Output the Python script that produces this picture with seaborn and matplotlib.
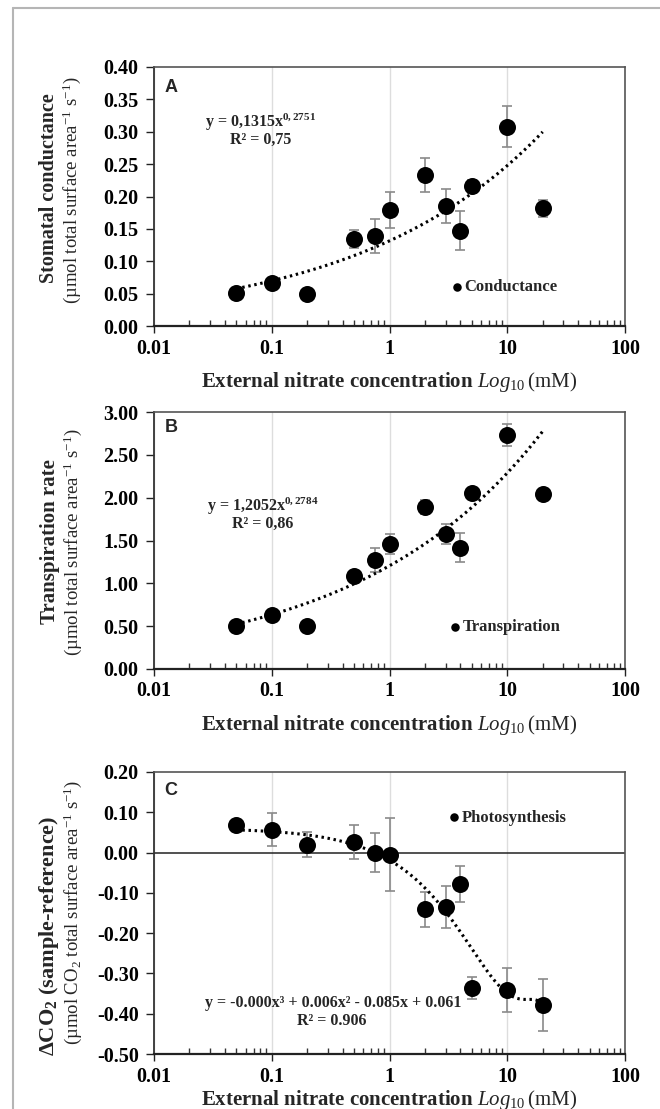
import numpy as np
import pandas as pd
import matplotlib
matplotlib.use("Agg")
import matplotlib.pyplot as plt
import seaborn as sns
from matplotlib.lines import Line2D
from matplotlib.ticker import FixedLocator, LogLocator, NullFormatter, FuncFormatter

# ---------------- data ----------------
nitrate = [0.05, 0.1, 0.2, 0.5, 0.75, 1, 2, 3, 4, 5, 10, 20]

conductance = [0.051, 0.066, 0.050, 0.134, 0.139, 0.179, 0.233, 0.185, 0.147, 0.216, 0.308, 0.182]
conductance_err = [0.003, 0.003, 0.003, 0.014, 0.026, 0.028, 0.026, 0.026, 0.030, 0.010, 0.031, 0.013]

transpiration = [0.505, 0.63, 0.505, 1.088, 1.271, 1.457, 1.893, 1.574, 1.418, 2.056, 2.736, 2.040]
transpiration_err = [0.02, 0.02, 0.02, 0.03, 0.136, 0.117, 0.085, 0.117, 0.17, 0.03, 0.128, 0.03]

photosynthesis = [0.068, 0.057, 0.020, 0.026, 0.000, -0.005, -0.141, -0.135, -0.078, -0.337, -0.341, -0.379]
photosynthesis_err = [0.0, 0.040, 0.030, 0.042, 0.048, 0.091, 0.044, 0.051, 0.045, 0.027, 0.055, 0.064]

# power-law trend coefficients printed on the chart
cond_a, cond_b = 0.1315, 0.2751
trans_a, trans_b = 1.2052, 0.2784

yticks_A = [0.00, 0.05, 0.10, 0.15, 0.20, 0.25, 0.30, 0.35, 0.40]
yticks_B = [0.00, 0.50, 1.00, 1.50, 2.00, 2.50, 3.00]
yticks_C = [-0.50, -0.40, -0.30, -0.20, -0.10, 0.00, 0.10, 0.20]
xticks = [0.01, 0.1, 1, 10, 100]
xtick_labels = ["0.01", "0.1", "1", "10", "100"]

# ---------------- style ----------------
sns.set_style("ticks")
plt.rcParams["font.family"] = ["Liberation Serif", "DejaVu Serif"]
plt.rcParams["mathtext.fontset"] = "custom"
plt.rcParams["mathtext.rm"] = "Liberation Serif"
plt.rcParams["mathtext.it"] = "Liberation Serif:italic"
plt.rcParams["mathtext.bf"] = "Liberation Serif:bold"
plt.rcParams["mathtext.default"] = "regular"
plt.rcParams["axes.unicode_minus"] = False

W, H = 660, 1109
fig = plt.figure(figsize=(W / 100, H / 100), dpi=100)

def px_axes(left, top, right, bottom):
    return fig.add_axes([left / W, 1 - bottom / H, (right - left) / W, (bottom - top) / H])

axA = px_axes(154, 67, 625, 326)
axB = px_axes(154, 412, 625, 669)
axC = px_axes(154, 772, 625, 1054)

df = pd.DataFrame({"x": nitrate, "cond": conductance, "cond_err": conductance_err,
                   "tr": transpiration, "tr_err": transpiration_err,
                   "ph": photosynthesis, "ph_err": photosynthesis_err})

xfit = np.geomspace(min(nitrate), max(nitrate), 300)
DOT = (0, (0.8, 1.2))

def style_axes(ax, yticks, ylim, labelpad=8):
    ax.set_xscale("log")
    ax.set_xlim(0.01, 100)
    ax.set_ylim(*ylim)
    ax.xaxis.set_major_locator(FixedLocator(xticks))
    ax.set_xticklabels(xtick_labels)
    ax.xaxis.set_minor_locator(LogLocator(base=10, subs=np.arange(2, 10)))
    ax.xaxis.set_minor_formatter(NullFormatter())
    ax.set_yticks(yticks)
    ax.yaxis.set_major_formatter(FuncFormatter(lambda v, p: f"{v:.2f}"))
    ax.grid(axis="x", which="major", color="#dddddd", lw=1)
    ax.set_axisbelow(True)
    ax.tick_params(axis="x", which="major", direction="out", length=5, width=1,
                   labelsize=14.5, pad=4, colors="#222222")
    ax.tick_params(axis="x", which="minor", direction="in", length=4, width=1, colors="#333333")
    ax.tick_params(axis="y", which="major", direction="out", length=6, width=1,
                   labelsize=14.5, pad=5, colors="#222222")
    for lab in ax.get_xticklabels() + ax.get_yticklabels():
        lab.set_fontweight("bold")
        lab.set_color("black")
    for s in ["top", "right"]:
        ax.spines[s].set_color("#555555")
        ax.spines[s].set_linewidth(1.2)
    ax.spines["left"].set_color("#333333")
    ax.spines["left"].set_linewidth(1.3)
    ax.spines["bottom"].set_color("#222222")
    ax.spines["bottom"].set_linewidth(1.6)
    ax.set_xlabel(r"$\mathbf{External\ nitrate\ concentration}$ $\mathit{Log}_{\mathit{10}}$$\,$(mM)",
                  fontsize=15, labelpad=labelpad)
    ax.set_ylabel("")

def points(ax, col, err, label):
    ax.errorbar(df["x"], df[col], yerr=df[err], fmt="none", ecolor="#8a8a8a",
                elinewidth=1.2, capsize=3.3, capthick=1.2, zorder=2)
    sns.scatterplot(data=df, x="x", y=col, ax=ax, color="black", s=150,
                    edgecolor="black", linewidth=0, zorder=4, label=label)

def legend(ax, xa, ya):
    return ax.legend(frameon=False, loc="center left", bbox_to_anchor=(xa, ya),
                     handlelength=0.6, handletextpad=0.15, borderpad=0, borderaxespad=0,
                     markerscale=0.5, prop={"family": "Liberation Serif", "weight": "bold", "size": 12})

def txt(ax, x, y, s, **kw):
    ax.text(x, y, s, transform=ax.transAxes, ha="center", va="center",
            fontsize=11.5, fontweight="bold", **kw)

# ---- Panel A ----
points(axA, "cond", "cond_err", "Conductance")
sns.lineplot(x=xfit, y=cond_a * xfit ** cond_b, ax=axA, color="black", lw=2.2,
             linestyle=DOT, zorder=3)
style_axes(axA, yticks_A, (0, 0.40))
legend(axA, 0.633, 0.15)
txt(axA, 0.226, 0.785, "y = 0,1315x$^{0,2751}$")
txt(axA, 0.226, 0.718, "R² = 0,75")
axA.text(0.036, 0.92, "A", transform=axA.transAxes, ha="center", va="center",
         fontsize=13, fontweight="bold", family="Liberation Sans")

# ---- Panel B ----
points(axB, "tr", "tr_err", "Transpiration")
sns.lineplot(x=xfit, y=trans_a * xfit ** trans_b, ax=axB, color="black", lw=2.2,
             linestyle=DOT, zorder=3)
style_axes(axB, yticks_B, (0, 3.0))
legend(axB, 0.628, 0.162)
txt(axB, 0.23, 0.631, "y = 1,2052x$^{0,2784}$")
txt(axB, 0.23, 0.563, "R² = 0,86")
axB.text(0.036, 0.94, "B", transform=axB.transAxes, ha="center", va="center",
         fontsize=13, fontweight="bold", family="Liberation Sans")

# ---- Panel C ----
axC.axhline(0, color="#222222", lw=1.1, zorder=1)
points(axC, "ph", "ph_err", "Photosynthesis")
coef = np.polyfit(nitrate, photosynthesis, 3)
sns.lineplot(x=xfit, y=np.polyval(coef, xfit), ax=axC, color="black", lw=2.2,
             linestyle=DOT, zorder=3)
style_axes(axC, yticks_C, (-0.5, 0.2), labelpad=1)
legend(axC, 0.626, 0.838)
txt(axC, 0.381, 0.182, "y = -0.000x³ + 0.006x² - 0.085x + 0.061")
txt(axC, 0.377, 0.117, "R² = 0.906")
axC.text(0.036, 0.935, "C", transform=axC.transAxes, ha="center", va="center",
         fontsize=13, fontweight="bold", family="Liberation Sans")

# ---- y labels (two lines each) ----
def ylabel2(yc_px, xb, s, size, bold):
    fig.text(xb / W, 1 - yc_px / H, s, rotation=90, ha="center", va="center",
             fontsize=size, fontweight="bold" if bold else "normal")

ylabel2(188, 49, "Stomatal conductance", 14.5, True)
ylabel2(190, 72, "(µmol total surface area$^{-1}$ s$^{-1}$)", 13.5, False)
ylabel2(542, 50, "Transpiration rate", 15, True)
ylabel2(542, 73, "(µmol total surface area$^{-1}$ s$^{-1}$)", 13.5, False)
ylabel2(936, 49, "ΔCO$_{2}$ (sample-reference)", 16, True)
ylabel2(912, 73, "(µmol CO$_{2}$ total surface area$^{-1}$ s$^{-1}$)", 13.5, False)

# ---- page border ----
fig.add_artist(Line2D([13 / W, 1], [1 - 8 / H, 1 - 8 / H], transform=fig.transFigure,
                      color="#b5b5b5", lw=1.5))
fig.add_artist(Line2D([13 / W, 13 / W], [1 - 8 / H, 0], transform=fig.transFigure,
                      color="#b5b5b5", lw=1.5))

fig.savefig("out.png", dpi=100)
